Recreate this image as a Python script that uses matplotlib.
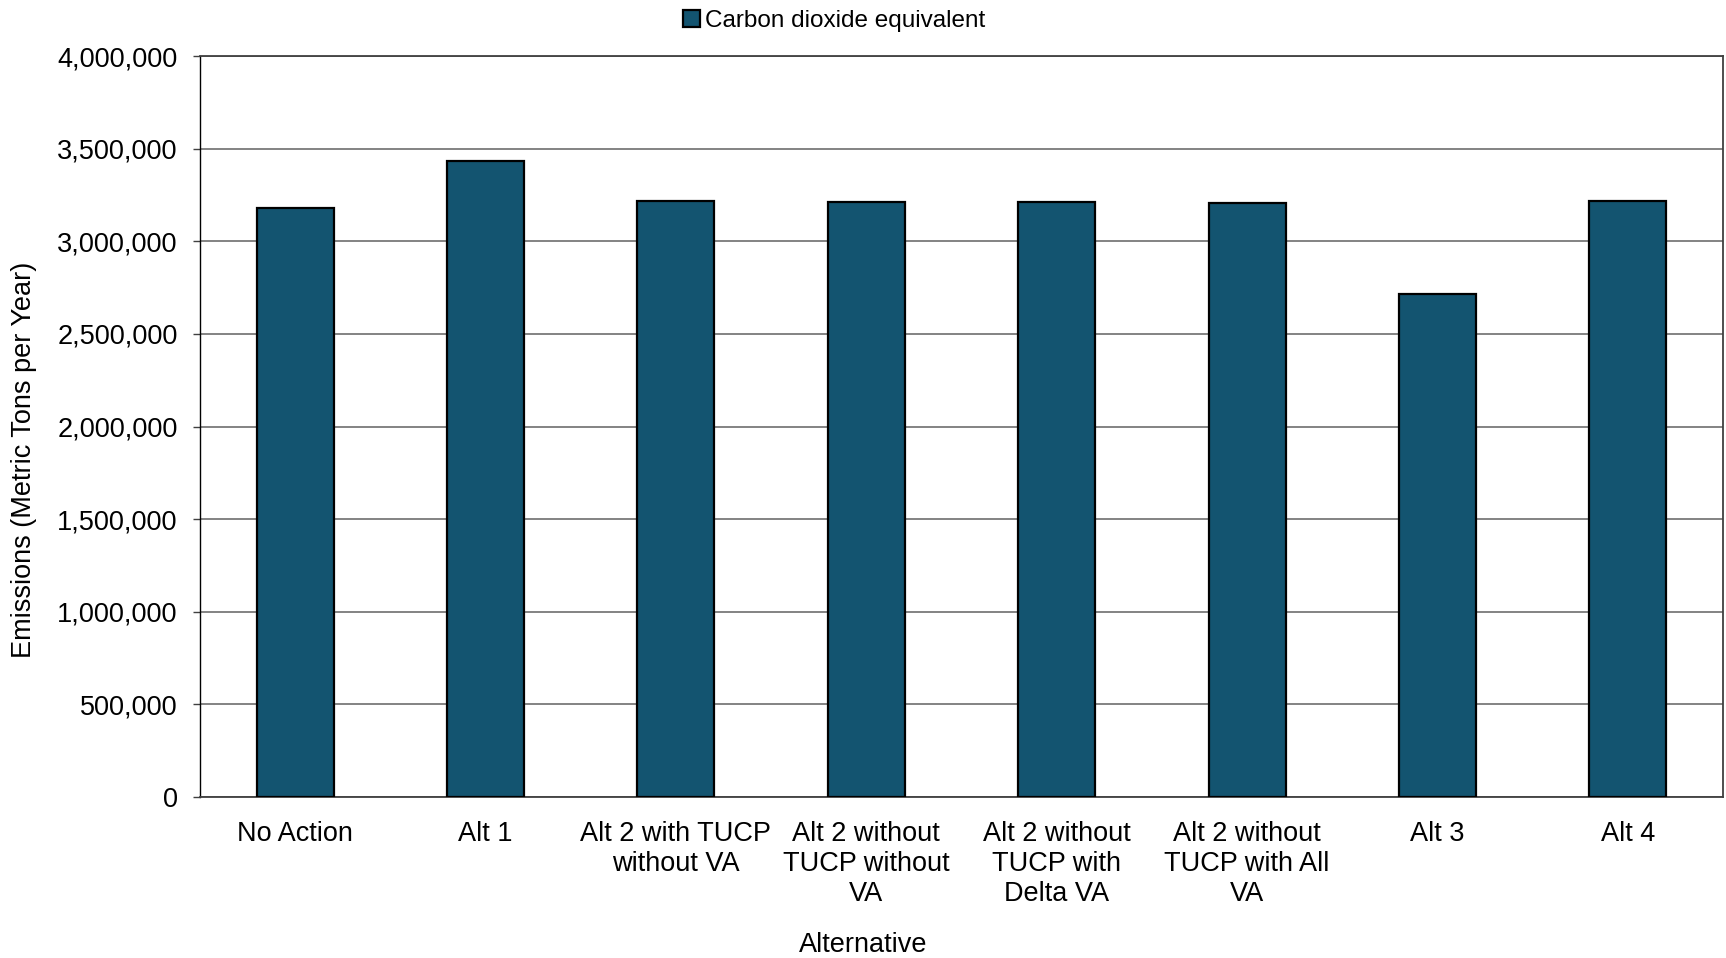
import matplotlib
matplotlib.use("Agg")
import matplotlib.pyplot as plt
from matplotlib.ticker import FuncFormatter, MultipleLocator

plt.rcParams['font.family'] = ['Liberation Sans', 'DejaVu Sans']

alternatives = [
    "No Action",
    "Alt 1",
    "Alt 2 with TUCP\nwithout VA",
    "Alt 2 without\nTUCP without\nVA",
    "Alt 2 without\nTUCP with\nDelta VA",
    "Alt 2 without\nTUCP with All\nVA",
    "Alt 3",
    "Alt 4",
]
co2e_emissions = [3178000, 3434000, 3218000, 3210000, 3210000, 3208000, 2715000, 3218000]

bar_color = "#135470"
fs = 19.5

fig = plt.figure(figsize=(17.26, 9.58), dpi=100)
ax = fig.add_axes([200 / 1726, 1 - 797 / 958, (1723 - 200) / 1726, (797 - 56) / 958])

x = range(len(alternatives))
ax.bar(x, co2e_emissions, width=0.405, color=bar_color, edgecolor="black",
       linewidth=1.6, zorder=3, label="Carbon dioxide equivalent")

ax.set_xlim(-0.5, len(alternatives) - 0.5)
ax.set_ylim(0, 4000000)
ax.yaxis.set_major_locator(MultipleLocator(500000))
ax.yaxis.set_major_formatter(FuncFormatter(lambda v, p: f"{int(v):,}"))
ax.grid(axis="y", color="#7a7a7a", linewidth=1.3, zorder=0)
ax.set_axisbelow(True)

ax.set_xticks(list(x))
ax.set_xticklabels(alternatives, fontsize=fs, linespacing=1.2, va="top")
ax.tick_params(axis="x", length=0, pad=17)
ax.tick_params(axis="y", labelsize=fs, length=5, width=1, pad=11, color="#404040")

for side in ("top", "right", "bottom"):
    ax.spines[side].set_color("#404040")
    ax.spines[side].set_linewidth(1.3)
ax.spines["left"].set_color("black")
ax.spines["left"].set_linewidth(1.0)

ax.set_ylabel("Emissions (Metric Tons per Year)", fontsize=fs)
ax.yaxis.set_label_coords(-0.107, 0.455, transform=ax.transAxes)

# axis title centred on the full figure width
fig.text(0.5, 1 - 945 / 958, "Alternative", fontsize=fs, ha="center", va="center")

fig.legend(loc="upper center", bbox_to_anchor=(834 / 1726, 1.0), frameon=False,
           fontsize=17.5, handlelength=0.7, handleheight=0.7, handletextpad=0.2,
           borderaxespad=0.0)

fig.savefig("out.png", dpi=100, facecolor="white")
